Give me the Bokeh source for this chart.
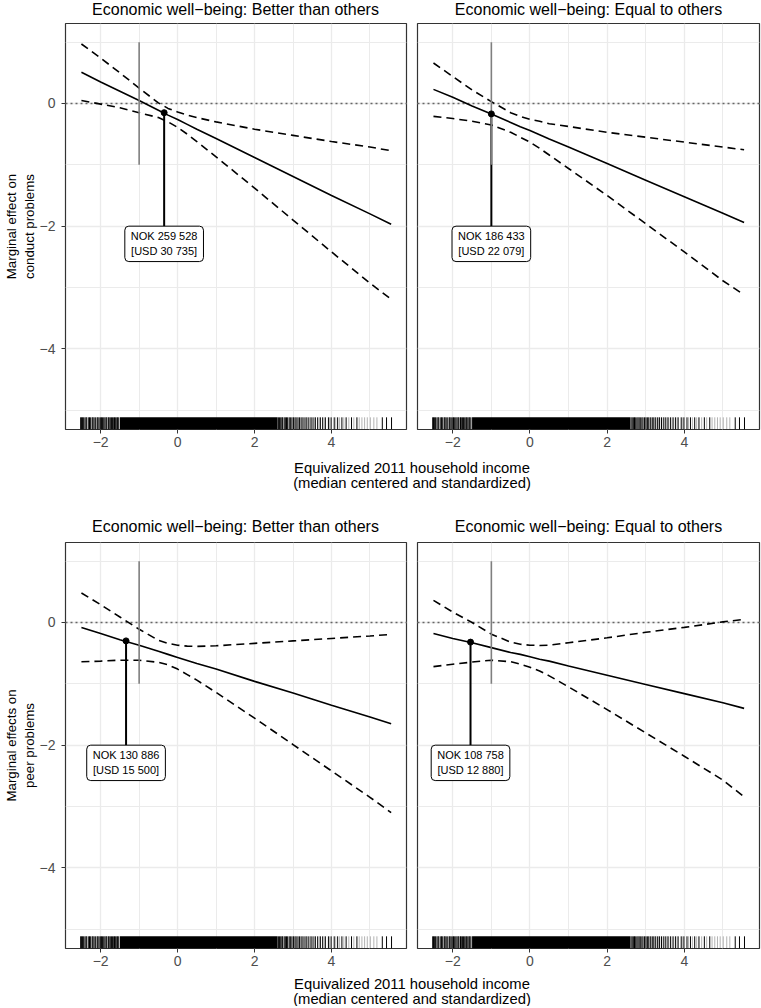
from bokeh.plotting import figure
from bokeh.layouts import column, row
from bokeh.models import Range1d, FixedTicker, Label, Span
from bokeh.embed import file_html
from bokeh.resources import INLINE

# ---------------- data ----------------
income_x = [-2.5, -2.0, -1.5, -1.0, -0.5, -0.25, 0.0, 0.25, 0.5, 1.0, 2.0, 3.0, 4.0, 5.0, 5.55]

conduct_better_est = [0.51, 0.35, 0.20, 0.05, -0.11, -0.19, -0.26, -0.34, -0.42, -0.57, -0.88, -1.19, -1.50, -1.80, -1.97]
conduct_better_up = [0.97, 0.74, 0.50, 0.25, 0.01, -0.08, -0.14, -0.19, -0.23, -0.30, -0.42, -0.52, -0.62, -0.71, -0.77]
conduct_better_lo = [0.05, -0.01, -0.07, -0.15, -0.23, -0.30, -0.39, -0.50, -0.62, -0.87, -1.38, -1.90, -2.42, -2.93, -3.19]

conduct_equal_est = [0.23, 0.10, -0.04, -0.17, -0.31, -0.38, -0.44, -0.51, -0.58, -0.71, -0.98, -1.25, -1.52, -1.79, -1.94]
conduct_equal_up = [0.66, 0.44, 0.22, 0.03, -0.15, -0.21, -0.26, -0.29, -0.33, -0.375, -0.47, -0.55, -0.63, -0.71, -0.755]
conduct_equal_lo = [-0.21, -0.245, -0.29, -0.35, -0.47, -0.55, -0.63, -0.73, -0.84, -1.06, -1.50, -1.96, -2.42, -2.89, -3.12]

peer_better_est = [-0.08, -0.18, -0.28, -0.37, -0.47, -0.52, -0.57, -0.62, -0.67, -0.76, -0.96, -1.15, -1.35, -1.54, -1.65]
peer_better_up = [0.48, 0.29, 0.09, -0.11, -0.29, -0.34, -0.37, -0.385, -0.39, -0.38, -0.34, -0.30, -0.26, -0.22, -0.195]
peer_better_lo = [-0.64, -0.63, -0.615, -0.615, -0.65, -0.69, -0.76, -0.85, -0.94, -1.14, -1.56, -1.99, -2.42, -2.85, -3.10]

peer_equal_est = [-0.18, -0.26, -0.33, -0.41, -0.49, -0.52, -0.56, -0.60, -0.63, -0.71, -0.86, -1.01, -1.16, -1.31, -1.40]
peer_equal_up = [0.36, 0.17, 0.0, -0.19, -0.32, -0.355, -0.37, -0.375, -0.37, -0.33, -0.25, -0.16, -0.08, 0.01, 0.05]
peer_equal_lo = [-0.72, -0.68, -0.645, -0.615, -0.64, -0.68, -0.73, -0.79, -0.87, -1.05, -1.42, -1.80, -2.18, -2.57, -2.84]

# transition points (x, y) and their labels
point_x = [-0.35, -1.0, -1.34, -1.54]
point_y = [-0.15, -0.17, -0.30, -0.32]
point_labels = ["NOK 259 528\n[USD 30 735]", "NOK 186 433\n[USD 22 079]",
                "NOK 130 886\n[USD 15 500]", "NOK 108 758\n[USD 12 880]"]
label_top_y = -2.0

# grey reference segment
ref_x = -1.0
ref_y = [-1.0, 1.0]

panel_titles = ["Economic well\u2212being: Better than others", "Economic well\u2212being: Equal to others"]
row_ylabels = ["Marginal effect on\nconduct problems", "Marginal effects on\npeer problems"]
x_title_lines = ["Equivalized 2011 household income", "(median centered and standardized)"]

x_ticks = [-2, 0, 2, 4]
x_minor = [-1, 1, 3, 5]
y_ticks = [-4, -2, 0]
y_minor = [-5, -3, -1, 1]
tick_text = {-4: "\u22124", -2: "\u22122", 0: "0", 2: "2", 4: "4"}

# rug of observed incomes
rug_core = [-1.50, 2.60]
rug_dark = [-2.52, -2.50, -2.47, -2.45, -2.41, -2.38, -2.36, -2.31, -2.29, -2.26, -2.22, -2.20,
            -2.17, -2.13, -2.09, -2.07, -2.04, -2.00, -1.98, -1.95, -1.92, -1.89, -1.86, -1.84,
            -1.80, -1.78, -1.75, -1.72, -1.69, -1.66, -1.64, -1.61, -1.58, -1.56, -1.53,
            2.62, 2.65, 2.68, 2.71, 2.73, 2.77, 2.80, 2.83, 2.86, 2.90, 2.93, 2.97, 3.01, 3.05,
            3.08, 3.13, 3.17, 3.21, 3.26, 3.31, 3.36, 3.41, 3.47, 3.52, 3.58, 3.64, 3.71, 3.77,
            3.84, 3.92, 3.99, 4.07, 4.16, 4.27, 4.38, 4.52, 4.66, 5.32, 5.43, 5.56]
rug_light = [3.00, 3.11, 3.24, 3.34, 3.45, 3.56, 3.68, 3.81, 3.95, 4.11, 4.21, 4.32, 4.45,
             4.58, 4.72, 4.79, 4.86, 4.93, 5.01, 5.10, 5.18]

X_RANGE = (-2.914, 5.949)
Y_RANGE = (-5.315, 1.304)
FONT = "Liberation Sans"
PAGE_W = 761
PANEL_CENTERS = [235, 588]
XTITLE_CENTER = 411.5


def panel(est, up, lo, px, py, ptext, width, height, mbottom, mleft, mright, ylabel=None):
    p = figure(width=width, height=height, x_range=Range1d(*X_RANGE), y_range=Range1d(*Y_RANGE),
               output_backend="svg", toolbar_location=None,
               min_border_top=1, min_border_bottom=mbottom,
               min_border_left=mleft, min_border_right=mright)
    p.background_fill_color = "white"
    p.border_fill_color = "white"
    p.outline_line_color = "#333333"
    p.outline_line_width = 1.2

    p.xaxis.ticker = FixedTicker(ticks=x_ticks)
    p.xaxis.major_label_overrides = tick_text
    p.yaxis.ticker = FixedTicker(ticks=y_ticks)
    p.yaxis.major_label_overrides = tick_text
    for ax in (p.xaxis[0], p.yaxis[0]):
        ax.axis_line_color = None
        ax.major_tick_line_color = "#333333"
        ax.major_tick_out = 4
        ax.major_tick_in = 0
        ax.minor_tick_line_color = None
        ax.major_label_text_font = FONT
        ax.major_label_text_font_size = "14px"
        ax.major_label_text_color = "#4D4D4D"
    p.xaxis.major_label_standoff = 3
    p.yaxis.major_label_standoff = 6
    if ylabel is None:
        p.yaxis.visible = False
    else:
        p.yaxis.axis_label = ylabel
        p.yaxis.axis_label_text_font = FONT
        p.yaxis.axis_label_text_font_size = "13.3px"
        p.yaxis.axis_label_text_font_style = "normal"
        p.yaxis.axis_label_text_color = "black"
        p.yaxis.axis_label_standoff = 0

    p.xgrid.ticker = FixedTicker(ticks=x_ticks, minor_ticks=x_minor)
    p.ygrid.ticker = FixedTicker(ticks=y_ticks, minor_ticks=y_minor)
    for g in (p.xgrid[0], p.ygrid[0]):
        g.grid_line_color = "#EBEBEB"
        g.grid_line_width = 1.3
        g.minor_grid_line_color = "#EBEBEB"
        g.minor_grid_line_width = 1.0

    p.add_layout(Span(location=0, dimension="width", line_color="#666666", line_width=1.4,
                      line_dash="2 3", level="underlay"))

    # rug
    rug_len = 0.03 * (Y_RANGE[1] - Y_RANGE[0])
    p.quad(left=[rug_core[0]], right=[rug_core[1]], bottom=[Y_RANGE[0]], top=[Y_RANGE[0] + rug_len],
           color="black", line_width=0)
    p.segment(x0=rug_dark, y0=[Y_RANGE[0]] * len(rug_dark), x1=rug_dark,
              y1=[Y_RANGE[0] + rug_len] * len(rug_dark), line_color="black", line_width=1)
    p.segment(x0=rug_light, y0=[Y_RANGE[0]] * len(rug_light), x1=rug_light,
              y1=[Y_RANGE[0] + rug_len] * len(rug_light), line_color="black", line_alpha=0.3,
              line_width=1)

    # curves
    p.line(income_x, up, line_color="black", line_width=1.6, line_dash="8 5")
    p.line(income_x, lo, line_color="black", line_width=1.6, line_dash="8 5")
    p.line(income_x, est, line_color="black", line_width=1.6)

    # drop line to label, grey reference segment, point
    p.segment(x0=[px], y0=[py], x1=[px], y1=[label_top_y], line_color="black", line_width=2)
    p.segment(x0=[ref_x], y0=[ref_y[0]], x1=[ref_x], y1=[ref_y[1]], line_color="#7F7F7F",
              line_width=1.6)
    p.scatter([px], [py], size=6, color="black")

    p.add_layout(Label(x=px, y=label_top_y, text=ptext, anchor="top_center", text_align="center",
                       text_font=FONT, text_font_size="11px", text_color="black",
                       background_fill_color="white", border_line_color="black",
                       border_line_width=1, border_radius=4,
                       padding={"left": 6, "right": 6, "top": 4, "bottom": 5}))
    return p


def text_fig(height, items):
    t = figure(width=PAGE_W, height=height, x_range=Range1d(0, PAGE_W), y_range=Range1d(0, height),
               output_backend="svg", toolbar_location=None, x_axis_type=None, y_axis_type=None,
               min_border=0)
    t.grid.visible = False
    t.outline_line_color = None
    t.background_fill_color = "white"
    t.border_fill_color = "white"
    for txt, xx, yy, size in items:
        t.add_layout(Label(x=xx, y=yy, text=txt, text_align="center", text_baseline="middle",
                           text_font=FONT, text_font_size=size, text_color="black"))
    return t


def titles_items(y):
    return [(panel_titles[0], PANEL_CENTERS[0], y, "16px"), (panel_titles[1], PANEL_CENTERS[1], y, "16px")]


def xtitle_items(y1, y2):
    return [(x_title_lines[0], XTITLE_CENTER, y1, "14.8px"), (x_title_lines[1], XTITLE_CENTER, y2, "14.8px")]


head = text_fig(22, titles_items(13.5))
tl = panel(conduct_better_est, conduct_better_up, conduct_better_lo,
           point_x[0], point_y[0], point_labels[0], 411, 434, 27, 64, 5, ylabel=row_ylabels[0])
tr = panel(conduct_equal_est, conduct_equal_up, conduct_equal_lo,
           point_x[1], point_y[1], point_labels[1], 350, 434, 27, 6, 2)
mid = text_fig(85, xtitle_items(74, 59) + titles_items(15))
bl = panel(peer_better_est, peer_better_up, peer_better_lo,
           point_x[2], point_y[2], point_labels[2], 411, 431, 24, 64, 5, ylabel=row_ylabels[1])
br = panel(peer_equal_est, peer_equal_up, peer_equal_lo,
           point_x[3], point_y[3], point_labels[3], 350, 431, 24, 6, 2)
tail = text_fig(34, xtitle_items(23, 8))

page = column(head, row(tl, tr), mid, row(bl, br), tail)
open("out.html", "w").write(file_html(page, INLINE))
